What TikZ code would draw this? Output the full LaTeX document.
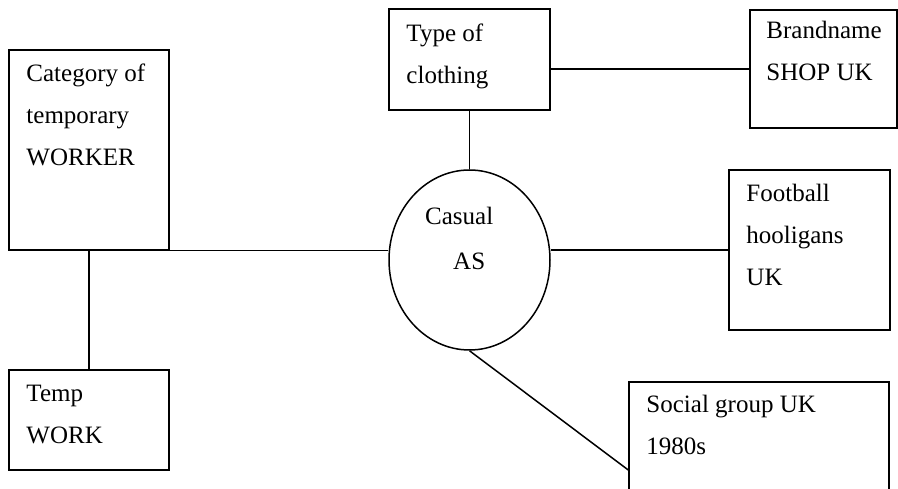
\documentclass[tikz,border=0pt]{standalone}
\usepackage{fontspec}
\setmainfont{Liberation Serif}
\usetikzlibrary{shapes.geometric}
\newcommand{\boxtext}[1]{\fontsize{25pt}{42pt}\selectfont\begin{tabular}[t]{@{}l@{}}#1\end{tabular}}
\begin{document}
\begin{tikzpicture}[x=1pt,y=-1pt,
  conceptbox/.style={draw=black, line width=1.5pt, rectangle, inner sep=0pt, fill=white},
  conceptoval/.style={draw=black, line width=1.5pt, ellipse, inner sep=0pt},
  boxlabel/.style={anchor=base west, inner sep=0pt, font=\fontsize{25pt}{42pt}\selectfont},
  link/.style={draw=black, line width=1.5pt}]
\useasboundingbox (0,0) rectangle (898,489);
\clip (0,0) rectangle (898,489);
\fill[white] (0,0) rectangle (898,489);
% boxes
\node[conceptbox, minimum width=160pt, minimum height=200pt] (cat) at (89,150) {};
\node[conceptbox, minimum width=160pt, minimum height=100pt] (temp) at (89,420) {};
\node[conceptbox, minimum width=161pt, minimum height=101pt] (type) at (469.5,59.5) {};
\node[conceptbox, minimum width=147pt, minimum height=118pt] (brand) at (823.5,69) {};
\node[conceptbox, minimum width=161pt, minimum height=160pt] (foot) at (809.5,250) {};
\node[conceptbox, minimum width=260pt, minimum height=176pt] (soc) at (759,470) {};
\node[conceptoval, minimum width=161pt, minimum height=180pt] (cas) at (469.5,260) {};
% connectors
\draw[link] (cat.south) -- (temp.north);
\draw[link] ([xshift=-19pt]cat.south east) -- (cas.west |- cat.south east);
\draw[link] (type.south) -- (cas.north);
\draw[link] (type.east |- brand.west) -- (brand.west);
\draw[link] (cas.east |- foot.west) -- (foot.west);
\draw[link] (cas.south) -- (soc.west);
% texts
\node[boxlabel] (catT) at ([xshift=18pt,yshift=-32pt]cat.north west) {\boxtext{Category of\\temporary\\WORKER}};
\node[boxlabel] (tempT) at ([xshift=18pt,yshift=-32pt]temp.north west) {\boxtext{Temp\\WORK}};
\node[boxlabel] (typeT) at ([xshift=18pt,yshift=-33pt]type.north west) {\boxtext{Type of\\clothing}};
\node[boxlabel] (brandT) at ([xshift=17pt,yshift=-29pt]brand.north west) {\boxtext{Brandname\\SHOP UK}};
\node[boxlabel] (footT) at ([xshift=18pt,yshift=-32pt]foot.north west) {\boxtext{Football\\hooligans\\UK}};
\node[boxlabel] (socT) at ([xshift=18pt,yshift=-31pt]soc.north west) {\boxtext{Social group UK\\1980s}};
\node[boxlabel] (casT1) at (425,225) {Casual};
\node[boxlabel] (casT2) at (453,270) {AS};
\end{tikzpicture}
\end{document}
